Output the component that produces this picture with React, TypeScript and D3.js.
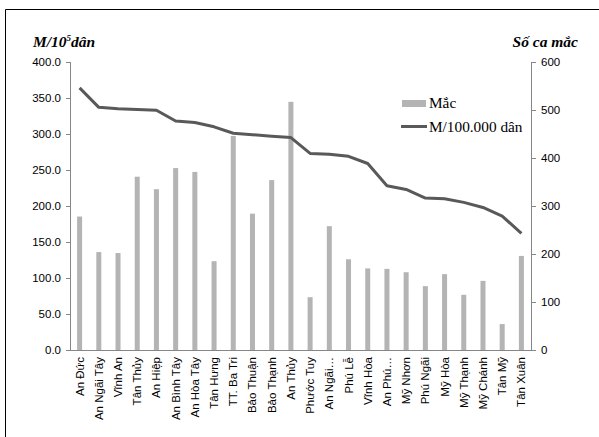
import React from "react";
import * as d3 from "d3";

// Communes, ordered by rate per 100,000 inhabitants
const communes = [
  "An Đức", "An Ngãi Tây", "Vĩnh An", "Tân Thủy", "An Hiệp", "An Bình Tây",
  "An Hòa Tây", "Tân Hưng", "TT. Ba Tri", "Bảo Thuận", "Bảo Thạnh", "An Thủy",
  "Phước Tuy", "An Ngãi…", "Phú Lễ", "Vĩnh Hòa", "An Phú…", "Mỹ Nhơn",
  "Phú Ngãi", "Mỹ Hòa", "Mỹ Thạnh", "Mỹ Chánh", "Tân Mỹ", "Tân Xuân",
];

// Number of cases (right axis)
const cases = [
  278, 204, 202, 361, 335, 379, 371, 185, 446, 284, 354, 517,
  110, 258, 189, 170, 169, 162, 133, 158, 115, 144, 54, 196,
];

// Cases per 100,000 inhabitants (left axis)
const ratePer100k = [
  364, 337, 335, 334, 333, 318, 316, 310, 301, 299, 297, 295,
  273, 272, 269, 259, 228, 223, 211, 210, 205, 198, 186, 162,
];

const leftTicks = [0, 50, 100, 150, 200, 250, 300, 350, 400];
const rightTicks = [0, 100, 200, 300, 400, 500, 600];

const W = 599;
const H = 437;
const plot = { left: 70, right: 531, top: 62, bottom: 350 };

const sans = "'Liberation Sans', Arial, sans-serif";
const serif = "'Liberation Serif', 'Times New Roman', serif";
const axisColor = "#868686";
const barColor = "#b4b4b4";
const lineColor = "#595959";

export default function App() {
  const x = d3
    .scaleBand<string>()
    .domain(communes)
    .range([plot.left, plot.right])
    .paddingInner(0)
    .paddingOuter(0);
  const yLeft = d3.scaleLinear().domain([0, 400]).range([plot.bottom, plot.top]);
  const yRight = d3.scaleLinear().domain([0, 600]).range([plot.bottom, plot.top]);

  const barW = 5;
  const cx = (c: string) => (x(c) ?? 0) + x.bandwidth() / 2;

  const linePath = d3
    .line<number>()
    .x((_, i) => cx(communes[i]))
    .y((d) => yLeft(d))(ratePer100k);

  return (
    <svg
      width={W}
      height={H}
      style={{ position: "absolute", left: 0, top: 0, background: "#fff" }}
    >
      {/* frame */}
      <line x1={5.5} y1={9.5} x2={W} y2={9.5} stroke="#000" strokeWidth={1} />
      <line x1={5.5} y1={9.5} x2={5.5} y2={H} stroke="#000" strokeWidth={1} />

      {/* axis titles */}
      <text x={33} y={47} fontFamily={serif} fontStyle="italic" fontWeight="bold" fontSize={15.5}>
        M/10<tspan fontSize={9} dy={-6}>5</tspan>
        <tspan dy={6}>dân</tspan>
      </text>
      <text
        x={578}
        y={47}
        textAnchor="end"
        fontFamily={serif}
        fontStyle="italic"
        fontWeight="bold"
        fontSize={15.5}
      >
        Số ca mắc
      </text>

      {/* bars */}
      {communes.map((c, i) => (
        <rect
          key={c}
          x={cx(c) - barW / 2}
          y={yRight(cases[i])}
          width={barW}
          height={plot.bottom - yRight(cases[i])}
          fill={barColor}
        />
      ))}

      {/* left axis */}
      <line x1={plot.left + 0.5} y1={plot.top} x2={plot.left + 0.5} y2={plot.bottom} stroke={axisColor} />
      {leftTicks.map((t) => (
        <g key={`l${t}`}>
          <line x1={plot.left - 4} x2={plot.left} y1={yLeft(t) + 0.5} y2={yLeft(t) + 0.5} stroke={axisColor} />
          <text x={plot.left - 9} y={yLeft(t) + 4} textAnchor="end" fontFamily={sans} fontSize={11.5} fill="#000">
            {t.toFixed(1)}
          </text>
        </g>
      ))}

      {/* right axis */}
      <line x1={plot.right + 0.5} y1={plot.top} x2={plot.right + 0.5} y2={plot.bottom} stroke={axisColor} />
      {rightTicks.map((t) => (
        <g key={`r${t}`}>
          <line x1={plot.right} x2={plot.right + 5} y1={yRight(t) + 0.5} y2={yRight(t) + 0.5} stroke={axisColor} />
          <text x={plot.right + 10} y={yRight(t) + 4} fontFamily={sans} fontSize={11.5} fill="#000">
            {t}
          </text>
        </g>
      ))}

      {/* bottom axis */}
      <line x1={plot.left} y1={plot.bottom + 0.5} x2={plot.right} y2={plot.bottom + 0.5} stroke={axisColor} />
      {communes.map((c) => (
        <text
          key={`x${c}`}
          transform={`translate(${cx(c) + 4},${plot.bottom + 7}) rotate(-90)`}
          textAnchor="end"
          fontFamily={sans}
          fontSize={11.5}
          fill="#000"
        >
          {c}
        </text>
      ))}

      {/* rate line */}
      <path d={linePath ?? ""} fill="none" stroke={lineColor} strokeWidth={3} strokeLinejoin="round" />

      {/* legend */}
      <rect x={402} y={100} width={24} height={7} fill={barColor} />
      <text x={429} y={108} fontFamily={serif} fontSize={15.3}>
        Mắc
      </text>
      <line x1={401} x2={427} y1={126.5} y2={126.5} stroke={lineColor} strokeWidth={3} />
      <text x={429} y={131.5} fontFamily={serif} fontSize={15.3}>
        M/100.000 dân
      </text>
    </svg>
  );
}
